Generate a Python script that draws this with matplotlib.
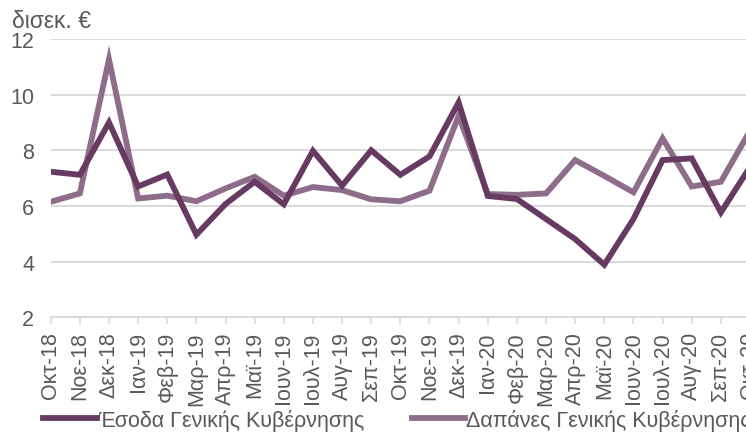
import matplotlib

matplotlib.use("Agg")
import matplotlib.pyplot as plt

months = [
    "Οκτ-18", "Νοε-18", "Δεκ-18", "Ιαν-19", "Φεβ-19", "Μαρ-19", "Απρ-19",
    "Μαϊ-19", "Ιουν-19", "Ιουλ-19", "Αυγ-19", "Σεπ-19", "Οκτ-19", "Νοε-19",
    "Δεκ-19", "Ιαν-20", "Φεβ-20", "Μαρ-20", "Απρ-20", "Μαϊ-20", "Ιουν-20",
    "Ιουλ-20", "Αυγ-20", "Σεπ-20", "Οκτ-20",
]
revenue = [
    7.23, 7.12, 9.00, 6.70, 7.13, 4.97, 6.07, 6.87, 6.06, 7.98, 6.73, 8.00,
    7.12, 7.78, 9.72, 6.36, 6.25, 5.53, 4.81, 3.89, 5.53, 7.65, 7.71, 5.77,
    7.40,
]
expenses = [
    6.15, 6.45, 11.27, 6.27, 6.37, 6.17, 6.63, 7.05, 6.37, 6.68, 6.57, 6.24,
    6.17, 6.55, 9.24, 6.43, 6.40, 6.45, 7.65, 7.08, 6.49, 8.43, 6.70, 6.87,
    8.70,
]
series_labels = ["Έσοδα Γενικής Κυβέρνησης", "Δαπάνες Γενικής Κυβέρνησης"]
y_ticks = [2, 4, 6, 8, 10, 12]

plt.rcParams["font.family"] = ["Liberation Sans", "DejaVu Sans"]
text_color = "#595959"
grid_color = "#d9d9d9"
fs = 15.5

fig = plt.figure(figsize=(7.46, 4.35), dpi=100)
W, H = 746, 435
ax = fig.add_axes([50.7 / W, 1 - 318.3 / H, (750 - 50.7) / W, (318.3 - 40) / H])

x = list(range(len(months)))
ax.plot(x, revenue, color="#663a61", linewidth=4.2, label=series_labels[0],
        solid_joinstyle="miter", zorder=3)
ax.plot(x, expenses, color="#8e6d8b", linewidth=4.2, label=series_labels[1],
        solid_joinstyle="miter", zorder=2)

ax.set_xlim(0, len(months) - 1)
ax.set_ylim(2, 12)
ax.set_yticks(y_ticks)
ax.set_xticks(x)
ax.set_xticklabels(months, rotation=90)
ax.grid(True, axis="y", color=grid_color, linewidth=1.4)
ax.set_axisbelow(True)
for side in ["top", "right", "left"]:
    ax.spines[side].set_visible(False)
ax.spines["bottom"].set_color(grid_color)
ax.spines["bottom"].set_linewidth(1.4)
ax.tick_params(axis="y", length=0, pad=12, labelsize=fs, labelcolor=text_color)
ax.tick_params(axis="x", length=5, width=1.2, color=grid_color, pad=5,
               labelsize=fs, labelcolor=text_color)

fig.text(12 / W, 1 - 28 / H, "δισεκ. €", fontsize=fs + 1, color=text_color, va="baseline")

fig.legend(loc="center left", bbox_to_anchor=(43 / W, 1 - 421 / H), ncol=2,
           frameon=False, fontsize=fs, handlelength=2.5, handletextpad=0.05,
           columnspacing=2.2, borderaxespad=0, borderpad=0, labelcolor=text_color)

fig.savefig("out.png", dpi=100)
